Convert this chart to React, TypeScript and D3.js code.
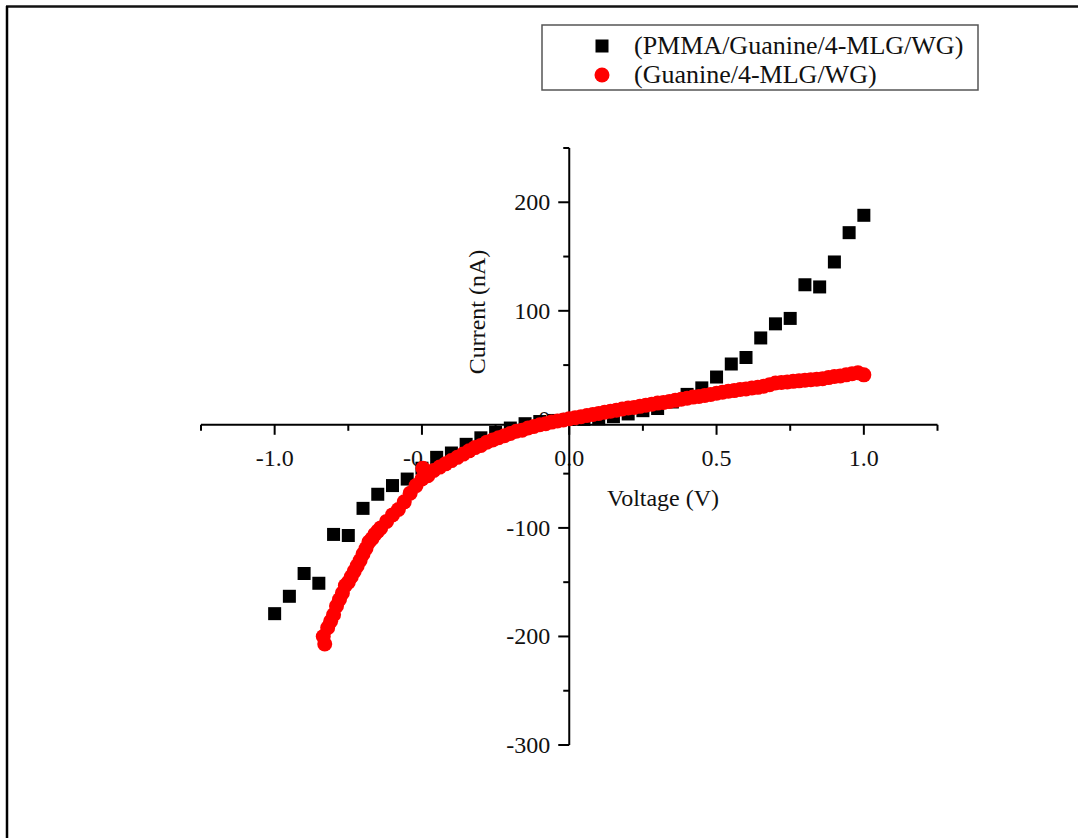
import React from "react";
import * as d3 from "d3";

const pmmaV = [-1.0, -0.95, -0.9, -0.85, -0.8, -0.75, -0.7, -0.65, -0.6, -0.55, -0.5, -0.45, -0.4, -0.35, -0.3, -0.25, -0.2, -0.15, -0.1, -0.05, 0.0, 0.05, 0.1, 0.15, 0.2, 0.25, 0.3, 0.35, 0.4, 0.45, 0.5, 0.55, 0.6, 0.65, 0.7, 0.75, 0.8, 0.85, 0.9, 0.95, 1.0];
const pmmaI = [-179, -163, -142, -151, -106, -107, -82, -69, -61, -55, -45, -35, -31, -23, -17, -12, -8, -4, -2, -1, 0, 0, 0.5, 2.5, 5, 8, 10, 16, 23, 29, 39, 51, 57, 75, 88, 93, 124, 122, 145, 172, 188];

const guanV = [-0.83, -0.835, -0.82, -0.81, -0.8, -0.79, -0.78, -0.77, -0.76, -0.75, -0.74, -0.73, -0.72, -0.71, -0.7, -0.69, -0.68, -0.67, -0.66, -0.65, -0.64, -0.62, -0.6, -0.58, -0.56, -0.54, -0.52, -0.5, -0.497, -0.49, -0.48, -0.46, -0.44, -0.42, -0.4, -0.38, -0.36, -0.34, -0.32, -0.3, -0.28, -0.26, -0.24, -0.22, -0.2, -0.18, -0.16, -0.14, -0.12, -0.1, -0.08, -0.06, -0.04, -0.02, 0.0, 0.02, 0.04, 0.06, 0.08, 0.1, 0.12, 0.14, 0.16, 0.18, 0.2, 0.22, 0.24, 0.26, 0.28, 0.3, 0.32, 0.34, 0.36, 0.38, 0.4, 0.42, 0.44, 0.46, 0.48, 0.5, 0.52, 0.54, 0.56, 0.58, 0.6, 0.62, 0.64, 0.66, 0.68, 0.7, 0.72, 0.74, 0.76, 0.78, 0.8, 0.82, 0.84, 0.86, 0.88, 0.9, 0.92, 0.94, 0.96, 0.98, 1.0];
const guanI = [-207, -200, -192, -186, -180, -172, -166, -160, -153, -150, -145, -140, -135, -130, -124, -119, -113, -110, -106, -103, -100, -94, -88, -83, -76, -68, -61, -55, -45, -52, -52, -47, -44, -41, -38, -35, -32, -29, -26, -24, -21, -19, -17, -15, -13, -11, -10, -8, -6.5, -5, -4, -2.5, -1.5, -0.5, 0.5, 1.5, 2.5, 3.5, 4.5, 5.5, 6.5, 7.5, 8.5, 9.5, 10.5, 11, 12, 13, 14, 15, 15.5, 16.5, 17.5, 18.5, 19.5, 20.5, 21, 22, 23, 24, 25, 26, 26.5, 27.5, 28, 29, 29.5, 30.5, 32, 33.5, 34, 34.5, 35, 35.5, 36, 36.5, 37, 37.5, 38.5, 39.5, 40, 41, 42, 43, 41];

const xMajor = [-1.0, -0.5, 0.0, 0.5, 1.0];
const xMinor = [-1.25, -0.75, -0.25, 0.25, 0.75, 1.25];
const yMajor = [-300, -200, -100, 0, 100, 200];
const yMinor = [-250, -150, -50, 50, 150, 250];
const xDomain = [-1.25, 1.25];
const yDomain = [-300, 250];
const xAxisAt = -5;

const seriesNames = ["(PMMA/Guanine/4-MLG/WG)", "(Guanine/4-MLG/WG)"];
const xTitle = "Voltage (V)";
const yTitle = "Current (nA)";

const FONT = "'Liberation Serif', 'Times New Roman', serif";

export default function App() {
  const x = d3.scaleLinear().domain(xDomain).range([201, 937.5]);
  const y = d3.scaleLinear().domain(yDomain).range([745, 148]);
  const x0 = x(0);
  const yAx = y(xAxisAt);
  const xFmt = (v: number) => d3.format(".1f")(v).replace("\u2212", "-");
  const sq = 13;
  const r = 7.5;

  return (
    <div style={{ position: "absolute", left: 0, top: 0 }}>
      <svg width={1078} height={838} style={{ display: "block", background: "#fff" }}>
        <line x1={6} x2={1078} y1={6.5} y2={6.5} stroke="#111" strokeWidth={2.5} />
        <line x1={7} x2={7} y1={6} y2={838} stroke="#000" strokeWidth={2.5} />

        {/* x axis */}
        <line x1={x(xDomain[0])} x2={x(xDomain[1])} y1={yAx} y2={yAx} stroke="#000" strokeWidth={2} />
        {xMajor.map((v) => (
          <line key={"xM" + v} x1={x(v)} x2={x(v)} y1={yAx} y2={yAx + 10} stroke="#000" strokeWidth={2} />
        ))}
        {xMinor.map((v) => (
          <line key={"xm" + v} x1={x(v)} x2={x(v)} y1={yAx} y2={yAx + 6} stroke="#000" strokeWidth={2} />
        ))}
        {xMajor.map((v) => (
          <text key={"xl" + v} x={x(v)} y={466} textAnchor="middle" fontFamily={FONT} fontSize={24} fill="#111">
            {xFmt(v)}
          </text>
        ))}
        <text x={663} y={506} textAnchor="middle" fontFamily={FONT} fontSize={24} fill="#111">{xTitle}</text>

        {/* y axis */}
        <line x1={x0} x2={x0} y1={y(yDomain[1])} y2={y(yDomain[0])} stroke="#000" strokeWidth={2} />
        {yMajor.map((v) => (
          <line key={"yM" + v} x1={x0 - 11} x2={x0} y1={y(v)} y2={y(v)} stroke="#000" strokeWidth={2} />
        ))}
        {yMinor.map((v) => (
          <line key={"ym" + v} x1={x0 - 6} x2={x0} y1={y(v)} y2={y(v)} stroke="#000" strokeWidth={2} />
        ))}
        {yMajor.map((v) => (
          <text key={"yl" + v} x={x0 - 19} y={y(v) + 8} textAnchor="end" fontFamily={FONT} fontSize={24} fill="#111">
            {String(v)}
          </text>
        ))}
        <text transform={`translate(485,312) rotate(-90)`} textAnchor="middle" fontFamily={FONT} fontSize={24} fill="#111">{yTitle}</text>

        {/* data */}
        {pmmaV.map((v, i) => (
          <rect key={"p" + i} x={x(v) - sq / 2} y={y(pmmaI[i]) - sq / 2} width={sq} height={sq} fill="#000" />
        ))}
        {guanV.map((v, i) => (
          <circle key={"g" + i} cx={x(v)} cy={y(guanI[i])} r={r} fill="#f00" />
        ))}

        {/* legend */}
        <rect x={542} y={25} width={436} height={65} fill="#fff" stroke="#555" strokeWidth={1.5} />
        <rect x={602 - sq / 2} y={46 - sq / 2} width={sq} height={sq} fill="#000" />
        <circle cx={602} cy={75} r={r} fill="#f00" />
        <text x={634} y={54} fontFamily={FONT} fontSize={26} fill="#111">{seriesNames[0]}</text>
        <text x={634} y={83} fontFamily={FONT} fontSize={26} fill="#111">{seriesNames[1]}</text>
      </svg>
    </div>
  );
}
